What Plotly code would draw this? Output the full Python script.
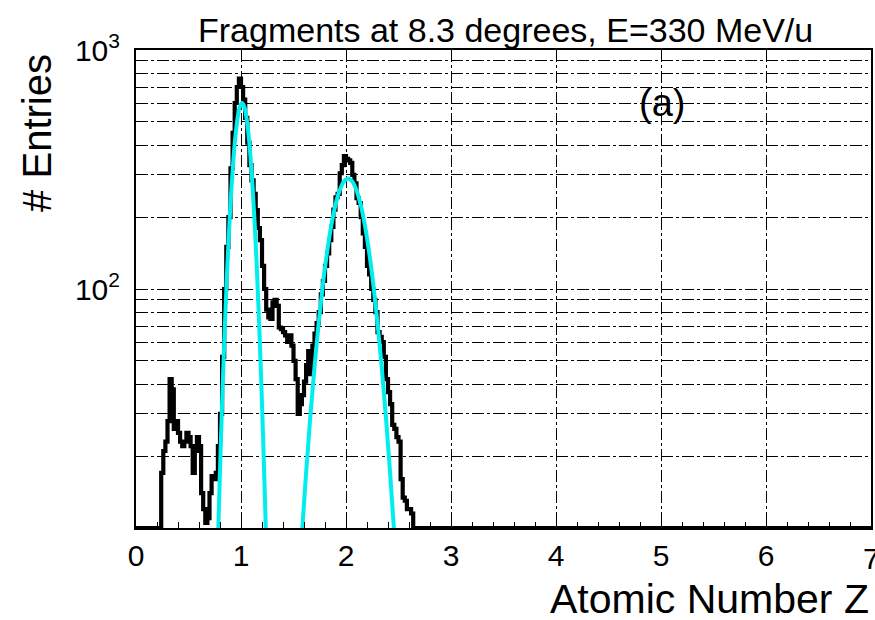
import numpy as np
import plotly.graph_objects as go

# Histogram of reconstructed atomic number Z (bin width 0.02, range 0..7)
BIN_WIDTH = 0.02
X_MIN, X_MAX = 0.0, 7.0
FIRST_FILLED_EDGE = 0.24
counts = [
    17, 21, 23, 28, 42, 38, 26, 28, 25, 23,      # 0.24 - 0.44
    22, 23, 25, 24, 22, 17, 21, 24, 22, 14,      # 0.44 - 0.64
    12, 10.5, 11, 14, 16.5, 16, 17, 22, 30, 52,  # 0.64 - 0.84
    100, 150, 200, 320, 450, 600, 700, 760, 700, 620,   # 0.84 - 1.04
    520, 410, 330, 285, 250, 214, 180, 160, 125, 100,   # 1.04 - 1.24
    82, 76, 75, 88, 90, 85, 69, 68, 66, 64,      # 1.24 - 1.44
    60, 64, 58, 50, 42, 30, 33, 36, 41, 48,      # 1.44 - 1.64
    55, 44, 58, 65, 72, 80, 95, 108, 125, 141,   # 1.64 - 1.84
    160, 182, 215, 242, 250, 305, 330, 360, 350, 345,   # 1.84 - 2.04
    337, 300, 277, 240, 229, 200, 171, 150, 125, 115,   # 2.04 - 2.24
    100, 90, 80, 66, 63, 60, 52, 42, 37, 33,     # 2.24 - 2.44
    27, 26, 24, 23, 16, 13.4, 13, 12, 12, 11.5,  # 2.44 - 2.64
]

# Gaussian fit to the Z=1 peak, sampled along the curve
fit1_z = [0.77, 0.79, 0.81, 0.83, 0.85, 0.87, 0.89, 0.91, 0.93, 0.95, 0.97, 0.99,
          1.01, 1.03, 1.05, 1.07, 1.09, 1.11, 1.13, 1.15, 1.17, 1.19, 1.21, 1.23, 1.25]
fit1_n = [5.9, 12.4, 24.3, 44.8, 77, 125, 189, 269, 359, 450, 528, 581,
          600, 581, 528, 450, 359, 269, 189, 125, 77, 44.8, 24.3, 12.4, 5.9]

# Gaussian fit to the Z=2 peak
fit2_z = [1.54, 1.58, 1.62, 1.66, 1.70, 1.74, 1.78, 1.82, 1.86, 1.90, 1.94, 1.98,
          2.02, 2.06, 2.10, 2.14, 2.18, 2.22, 2.26, 2.30, 2.34, 2.38, 2.42, 2.46, 2.50]
fit2_n = [4.9, 9.4, 17.0, 29.2, 47.2, 72.3, 104.5, 142.8, 184.6, 224.9, 258.9, 281.9,
          290, 281.9, 258.9, 224.9, 184.6, 142.8, 104.5, 72.3, 47.2, 29.2, 17.0, 9.4, 4.9]

x_ticks = [0, 1, 2, 3, 4, 5, 6, 7]
y_ticks = [100, 1000]
y_ticktext = ["10<sup>2</sup>", "10<sup>3</sup>"]
y_minor = [20, 30, 40, 50, 60, 70, 80, 90, 200, 300, 400, 500, 600, 700, 800, 900]

TITLE = "Fragments at 8.3 degrees, E=330 MeV/u"
X_TITLE = "Atomic Number Z"
Y_TITLE = "# Entries"
PANEL = "(a)"

Y_LOG_MIN, Y_LOG_MAX = 1, 3

# full set of bins over the axis range; empty bins sit on the frame floor
n_bins = int(round((X_MAX - X_MIN) / BIN_WIDTH))
edges = X_MIN + BIN_WIDTH * np.arange(n_bins + 1)
content = np.zeros(n_bins)
first = int(round((FIRST_FILLED_EDGE - X_MIN) / BIN_WIDTH))
content[first:first + len(counts)] = counts
floor = 10 ** Y_LOG_MIN
shown = np.clip(content, floor, None)
step_x = edges
step_y = np.append(shown, shown[-1])

FONT = "Liberation Sans, Arial, sans-serif"
GRID_DASH = "12px,3px,3px,3px"
TICK_SIZE = 30

fig = go.Figure()
fig.add_trace(go.Scatter(
    x=step_x, y=step_y, mode="lines", line=dict(color="black", width=4.2, shape="hv"),
    showlegend=False, hoverinfo="skip"))
for fz, fn in ((fit1_z, fit1_n), (fit2_z, fit2_n)):
    fig.add_trace(go.Scatter(
        x=fz, y=fn, mode="lines",
        line=dict(color="rgb(0,238,238)", width=4, shape="spline", smoothing=1.0),
        showlegend=False, hoverinfo="skip"))

annotations = [
    dict(text=TITLE, xref="paper", yref="paper", x=0.503, y=1.042,
         xanchor="center", yanchor="middle", showarrow=False,
         font=dict(size=34, family=FONT)),
    dict(text=X_TITLE, xref="paper", yref="paper", x=1.0, y=-0.148,
         xanchor="right", yanchor="middle", showarrow=False,
         font=dict(size=41, family=FONT)),
    dict(text=Y_TITLE, xref="paper", yref="paper", x=-0.134, y=0.995,
         xanchor="center", yanchor="top", textangle=-90, showarrow=False,
         font=dict(size=40, family=FONT)),
    dict(text=PANEL, xref="paper", yref="paper", x=0.716, y=0.889,
         xanchor="center", yanchor="middle", showarrow=False,
         font=dict(size=38, family=FONT)),
    # last x tick label sits on the right edge of the canvas
    dict(text=str(x_ticks[-1]), xref="x", yref="paper", x=x_ticks[-1], y=-0.025,
         xanchor="center", yanchor="top", showarrow=False,
         font=dict(size=TICK_SIZE, family=FONT)),
]

fig.update_layout(
    template="none",
    width=875, height=620,
    margin=dict(l=136, r=4, t=50, b=92),
    paper_bgcolor="white", plot_bgcolor="white",
    font=dict(family=FONT, color="black"),
    showlegend=False,
    xaxis=dict(
        range=[X_MIN, X_MAX], tickmode="array", tickvals=x_ticks[:-1],
        ticktext=[str(v) for v in x_ticks[:-1]],
        ticks="inside", ticklen=12, tickwidth=1, tickcolor="black",
        tickfont=dict(size=TICK_SIZE, family=FONT), ticklabelstandoff=0,
        showline=True, linecolor="black", linewidth=2, mirror=True,
        showgrid=True, gridcolor="black", gridwidth=1.3, griddash=GRID_DASH,
        zeroline=False, automargin=False,
        minor=dict(dtick=0.2, tick0=0, ticks="inside", ticklen=6, tickwidth=1,
                   tickcolor="black", showgrid=False),
    ),
    yaxis=dict(
        type="log", range=[Y_LOG_MIN, Y_LOG_MAX], tickmode="array",
        tickvals=y_ticks, ticktext=y_ticktext,
        ticks="inside", ticklen=12, tickwidth=1, tickcolor="black",
        tickfont=dict(size=TICK_SIZE, family=FONT), ticklabelstandoff=8,
        showline=True, linecolor="black", linewidth=2, mirror=True,
        showgrid=True, gridcolor="black", gridwidth=1.3, griddash=GRID_DASH,
        zeroline=False, automargin=False,
        minor=dict(tickmode="array", tickvals=y_minor, ticks="inside", ticklen=6,
                   tickwidth=1, tickcolor="black", showgrid=True,
                   gridcolor="black", gridwidth=1.3, griddash=GRID_DASH),
    ),
    annotations=annotations,
)

fig.write_html("out.html")
